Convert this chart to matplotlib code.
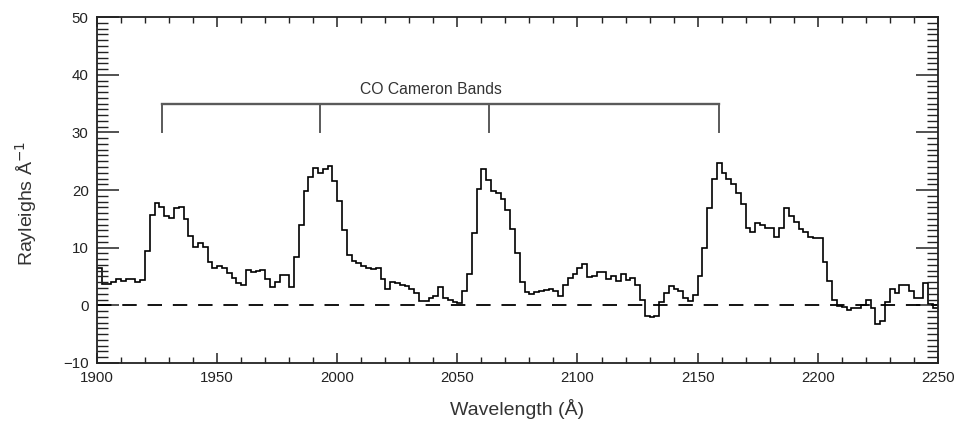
import numpy as np
import matplotlib
matplotlib.use("Agg")
from matplotlib import pyplot as plt
from matplotlib.ticker import MultipleLocator

plt.rcParams['font.family'] = ['Liberation Sans', 'DejaVu Sans']

# spectrum, 2 A bins starting at 1900 A (Rayleighs per A)
bin_start = 1900
bin_width = 2
brightness = [
    6.5, 3.7, 3.7, 4.0, 4.6, 4.2, 4.6, 4.6, 4.0, 4.4,
    9.5, 15.6, 17.7, 17.0, 15.5, 15.2, 16.8, 17.1, 15.0, 12.1,
    10.2, 10.8, 10.2, 7.5, 6.5, 6.8, 6.5, 5.6, 4.8, 3.9,
    3.6, 6.1, 5.8, 6.0, 6.2, 4.5, 3.1, 4.0, 5.3, 5.3,
    3.2, 8.3, 14.0, 19.8, 22.2, 23.9, 23.0, 23.6, 24.2, 21.5,
    18.1, 13.0, 8.7, 7.7, 7.3, 6.9, 6.5, 6.3, 6.5, 4.5,
    2.8, 4.0, 3.9, 3.6, 3.3, 2.8, 2.2, 0.75, 0.75, 1.2,
    1.6, 3.2, 1.3, 0.9, 0.5, 0.35, 2.5, 5.4, 12.5, 20.1,
    23.6, 21.8, 19.8, 19.5, 18.5, 16.5, 13.2, 9.0, 4.0, 2.3,
    1.9, 2.3, 2.4, 2.6, 2.8, 2.4, 1.6, 3.5, 4.8, 5.4,
    6.5, 7.2, 4.9, 5.1, 5.7, 5.7, 4.5, 5.1, 4.2, 5.4,
    4.4, 4.8, 3.5, 1.0, -1.85, -2.0, -1.8, 0.5, 2.1, 3.4,
    2.8, 2.4, 1.2, 0.7, 1.8, 5.0, 10.0, 16.9, 22.0, 24.7,
    23.0, 22.0, 21.0, 19.5, 17.5, 13.5, 12.8, 14.2, 14.0, 13.5,
    13.5, 11.9, 13.5, 16.8, 15.5, 14.4, 13.3, 12.7, 11.9, 11.7,
    11.7, 7.5, 4.2, 1.0, -0.1, -0.3, -0.8, -0.4, -0.4, 0.0,
    1.0, -0.4, -3.3, -2.7, 0.5, 2.8, 2.2, 3.5, 3.5, 2.5,
    1.3, 1.3, 3.8, 0.2, -0.4,
]

# CO Cameron band heads marked on the bracket
band_heads = [1927, 1993, 2063, 2159]
bracket_top = 35
bracket_bottom = 30
band_label = "CO Cameron Bands"

edges = bin_start + bin_width * np.arange(len(brightness) + 1)

fig = plt.figure(figsize=(9.56, 4.29), dpi=100)
ax = fig.add_axes([0.1015, 0.154, 0.8795, 0.806])

ax.stairs(brightness, edges, color='black', linewidth=1.2, baseline=None)
ax.axhline(0, color='black', linewidth=1.3, dashes=(8, 6))

# bracket for the bands
grey = '#5a5a5a'
ax.plot([band_heads[0], band_heads[-1]], [bracket_top, bracket_top], color=grey, linewidth=1.7)
for wl in band_heads:
    ax.plot([wl, wl], [bracket_bottom, bracket_top], color=grey, linewidth=1.4)
ax.text(np.mean([band_heads[0], band_heads[-1]]) - 4, bracket_top + 1.1, band_label,
        ha='center', va='bottom', fontsize=11.3, color='#333333')

ax.set_xlim(1900, 2250)
ax.set_ylim(-10, 50)
ax.xaxis.set_major_locator(MultipleLocator(50))
ax.xaxis.set_minor_locator(MultipleLocator(10))
ax.yaxis.set_major_locator(MultipleLocator(10))
ax.yaxis.set_minor_locator(MultipleLocator(1))
ax.tick_params(axis='both', which='both', direction='in', top=True, right=True,
               colors='#222222', labelsize=10.8)
ax.tick_params(axis='x', which='major', length=7, width=1.1, pad=6)
ax.tick_params(axis='x', which='minor', length=4, width=1.0)
ax.tick_params(axis='y', which='major', length=16, width=1.1, pad=6)
ax.tick_params(axis='y', which='minor', length=8, width=1.0)
for s in ax.spines.values():
    s.set_linewidth(1.3)
    s.set_color('#222222')

ax.set_xlabel("Wavelength (Å)", fontsize=14, color='#333333', labelpad=10)
ax.set_ylabel("Rayleighs Å$^{-1}$", fontsize=14, color='#333333')
ax.yaxis.set_label_coords(-0.069, 0.46)

fig.savefig("out.png", dpi=100)
